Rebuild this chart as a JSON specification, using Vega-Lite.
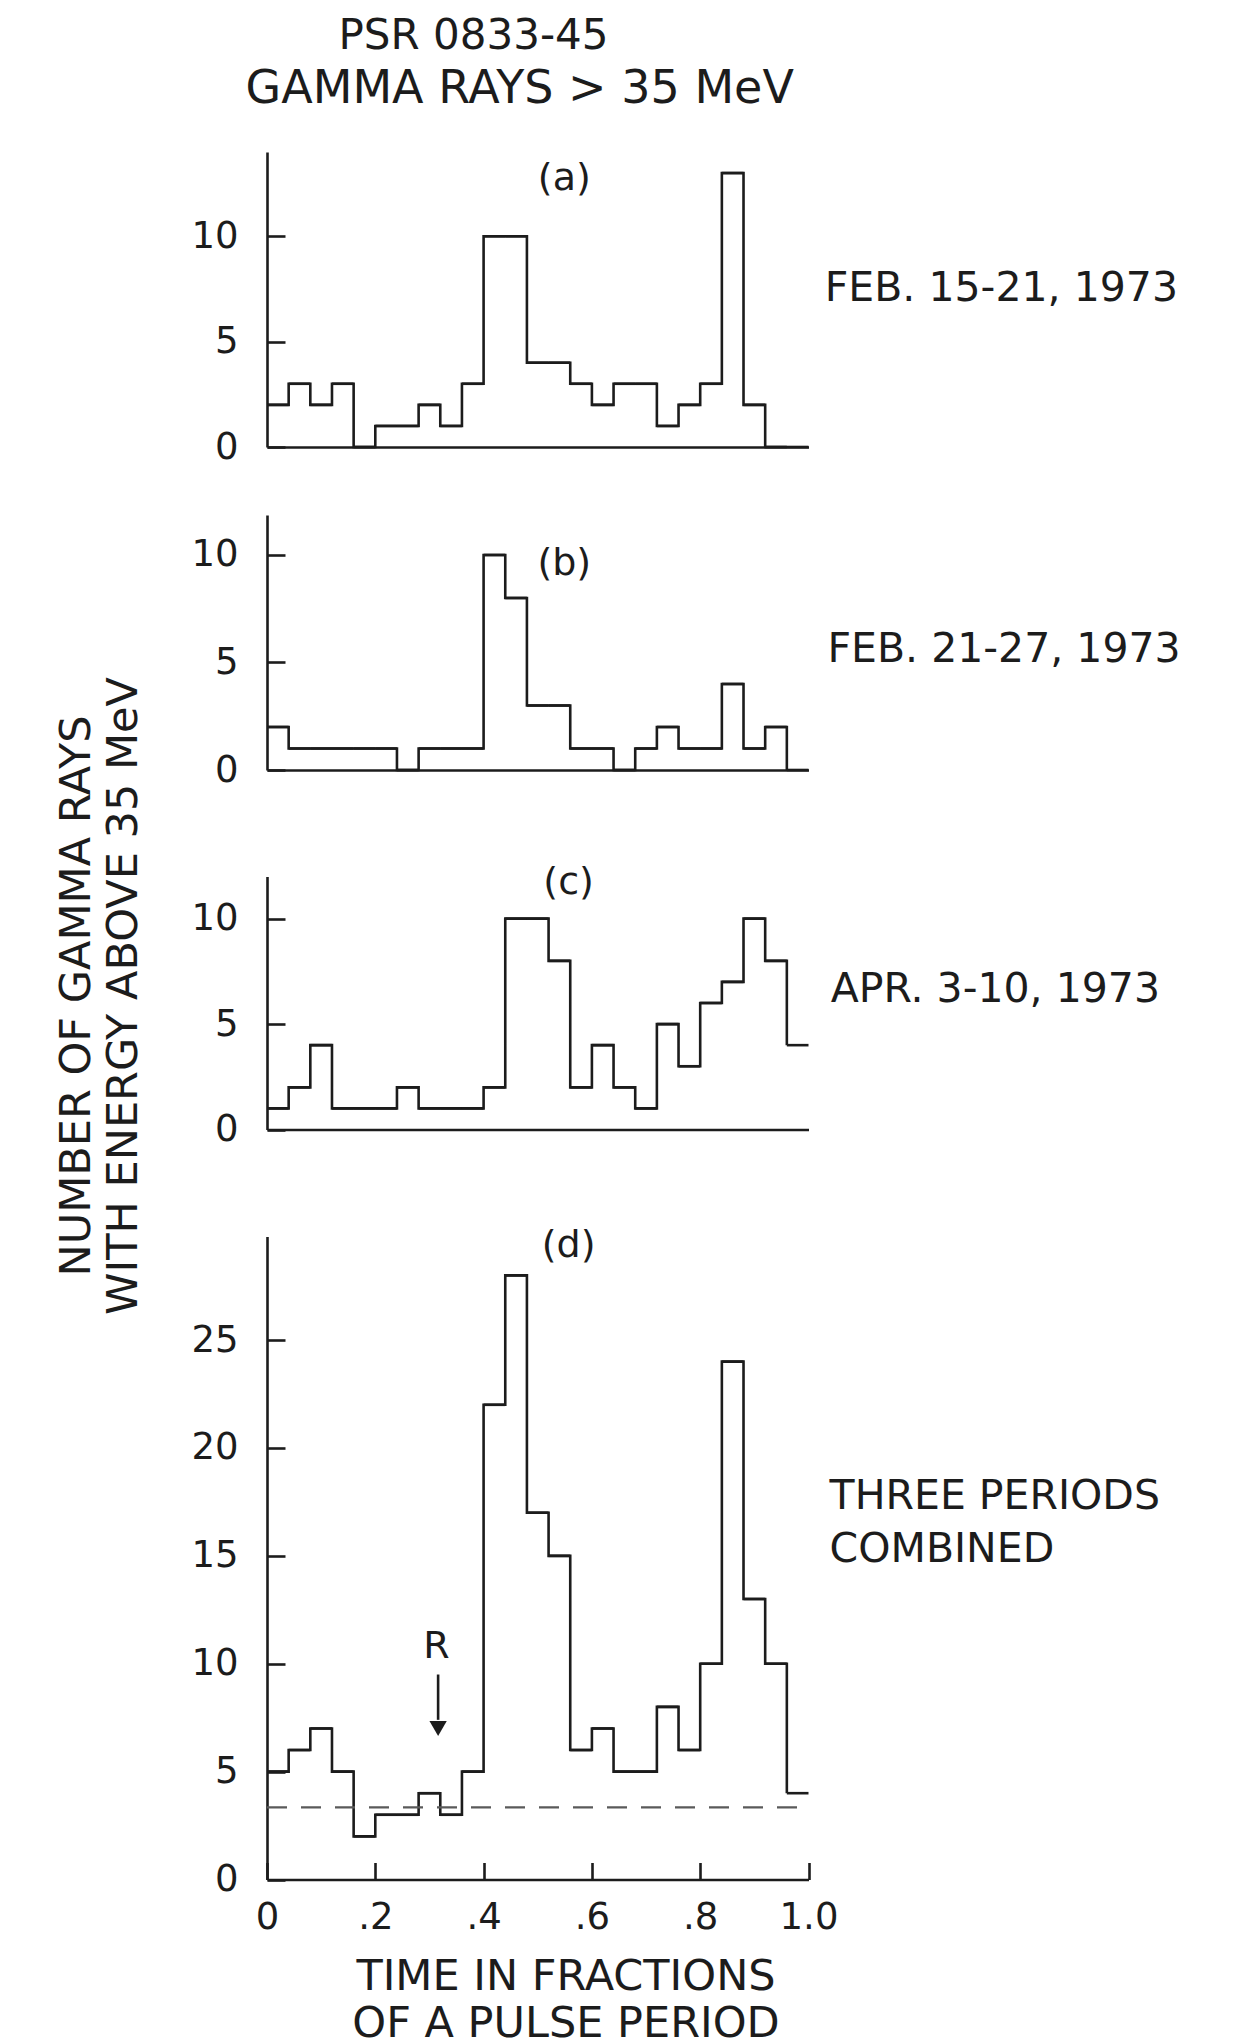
{
  "$schema": "https://vega.github.io/schema/vega-lite/v6.json",
  "padding": {"left": 54, "top": 15, "right": 5, "bottom": 0},
  "background": "white",
  "title": {"text": "PSR 0833-45", "anchor": "start", "frame": "group", "dx": 71.5, "offset": -34, "fontSize": 42, "baseline": "bottom", "fontWeight": "normal", "font": "DejaVu Sans", "color": "#1c1c1c"},
  "datasets": {
    "bins": [
      {"panel": "a", "x0": 0, "x1": 0.04, "n": 2}, {"panel": "a", "x0": 0.04, "x1": 0.08, "n": 3}, {"panel": "a", "x0": 0.08, "x1": 0.12, "n": 2}, {"panel": "a", "x0": 0.12, "x1": 0.16, "n": 3}, {"panel": "a", "x0": 0.16, "x1": 0.2, "n": 0},
      {"panel": "a", "x0": 0.2, "x1": 0.24, "n": 1}, {"panel": "a", "x0": 0.24, "x1": 0.28, "n": 1}, {"panel": "a", "x0": 0.28, "x1": 0.32, "n": 2}, {"panel": "a", "x0": 0.32, "x1": 0.36, "n": 1}, {"panel": "a", "x0": 0.36, "x1": 0.4, "n": 3},
      {"panel": "a", "x0": 0.4, "x1": 0.44, "n": 10}, {"panel": "a", "x0": 0.44, "x1": 0.48, "n": 10}, {"panel": "a", "x0": 0.48, "x1": 0.52, "n": 4}, {"panel": "a", "x0": 0.52, "x1": 0.56, "n": 4}, {"panel": "a", "x0": 0.56, "x1": 0.6, "n": 3},
      {"panel": "a", "x0": 0.6, "x1": 0.64, "n": 2}, {"panel": "a", "x0": 0.64, "x1": 0.68, "n": 3}, {"panel": "a", "x0": 0.68, "x1": 0.72, "n": 3}, {"panel": "a", "x0": 0.72, "x1": 0.76, "n": 1}, {"panel": "a", "x0": 0.76, "x1": 0.8, "n": 2},
      {"panel": "a", "x0": 0.8, "x1": 0.84, "n": 3}, {"panel": "a", "x0": 0.84, "x1": 0.88, "n": 13}, {"panel": "a", "x0": 0.88, "x1": 0.92, "n": 2}, {"panel": "a", "x0": 0.92, "x1": 0.96, "n": 0}, {"panel": "a", "x0": 0.96, "x1": 1, "n": 0},
      {"panel": "b", "x0": 0, "x1": 0.04, "n": 2}, {"panel": "b", "x0": 0.04, "x1": 0.08, "n": 1}, {"panel": "b", "x0": 0.08, "x1": 0.12, "n": 1}, {"panel": "b", "x0": 0.12, "x1": 0.16, "n": 1}, {"panel": "b", "x0": 0.16, "x1": 0.2, "n": 1},
      {"panel": "b", "x0": 0.2, "x1": 0.24, "n": 1}, {"panel": "b", "x0": 0.24, "x1": 0.28, "n": 0}, {"panel": "b", "x0": 0.28, "x1": 0.32, "n": 1}, {"panel": "b", "x0": 0.32, "x1": 0.36, "n": 1}, {"panel": "b", "x0": 0.36, "x1": 0.4, "n": 1},
      {"panel": "b", "x0": 0.4, "x1": 0.44, "n": 10}, {"panel": "b", "x0": 0.44, "x1": 0.48, "n": 8}, {"panel": "b", "x0": 0.48, "x1": 0.52, "n": 3}, {"panel": "b", "x0": 0.52, "x1": 0.56, "n": 3}, {"panel": "b", "x0": 0.56, "x1": 0.6, "n": 1},
      {"panel": "b", "x0": 0.6, "x1": 0.64, "n": 1}, {"panel": "b", "x0": 0.64, "x1": 0.68, "n": 0}, {"panel": "b", "x0": 0.68, "x1": 0.72, "n": 1}, {"panel": "b", "x0": 0.72, "x1": 0.76, "n": 2}, {"panel": "b", "x0": 0.76, "x1": 0.8, "n": 1},
      {"panel": "b", "x0": 0.8, "x1": 0.84, "n": 1}, {"panel": "b", "x0": 0.84, "x1": 0.88, "n": 4}, {"panel": "b", "x0": 0.88, "x1": 0.92, "n": 1}, {"panel": "b", "x0": 0.92, "x1": 0.96, "n": 2}, {"panel": "b", "x0": 0.96, "x1": 1, "n": 0},
      {"panel": "c", "x0": 0, "x1": 0.04, "n": 1}, {"panel": "c", "x0": 0.04, "x1": 0.08, "n": 2}, {"panel": "c", "x0": 0.08, "x1": 0.12, "n": 4}, {"panel": "c", "x0": 0.12, "x1": 0.16, "n": 1}, {"panel": "c", "x0": 0.16, "x1": 0.2, "n": 1},
      {"panel": "c", "x0": 0.2, "x1": 0.24, "n": 1}, {"panel": "c", "x0": 0.24, "x1": 0.28, "n": 2}, {"panel": "c", "x0": 0.28, "x1": 0.32, "n": 1}, {"panel": "c", "x0": 0.32, "x1": 0.36, "n": 1}, {"panel": "c", "x0": 0.36, "x1": 0.4, "n": 1},
      {"panel": "c", "x0": 0.4, "x1": 0.44, "n": 2}, {"panel": "c", "x0": 0.44, "x1": 0.48, "n": 10}, {"panel": "c", "x0": 0.48, "x1": 0.52, "n": 10}, {"panel": "c", "x0": 0.52, "x1": 0.56, "n": 8}, {"panel": "c", "x0": 0.56, "x1": 0.6, "n": 2},
      {"panel": "c", "x0": 0.6, "x1": 0.64, "n": 4}, {"panel": "c", "x0": 0.64, "x1": 0.68, "n": 2}, {"panel": "c", "x0": 0.68, "x1": 0.72, "n": 1}, {"panel": "c", "x0": 0.72, "x1": 0.76, "n": 5}, {"panel": "c", "x0": 0.76, "x1": 0.8, "n": 3},
      {"panel": "c", "x0": 0.8, "x1": 0.84, "n": 6}, {"panel": "c", "x0": 0.84, "x1": 0.88, "n": 7}, {"panel": "c", "x0": 0.88, "x1": 0.92, "n": 10}, {"panel": "c", "x0": 0.92, "x1": 0.96, "n": 8}, {"panel": "c", "x0": 0.96, "x1": 1, "n": 4},
      {"panel": "d", "x0": 0, "x1": 0.04, "n": 5}, {"panel": "d", "x0": 0.04, "x1": 0.08, "n": 6}, {"panel": "d", "x0": 0.08, "x1": 0.12, "n": 7}, {"panel": "d", "x0": 0.12, "x1": 0.16, "n": 5}, {"panel": "d", "x0": 0.16, "x1": 0.2, "n": 2},
      {"panel": "d", "x0": 0.2, "x1": 0.24, "n": 3}, {"panel": "d", "x0": 0.24, "x1": 0.28, "n": 3}, {"panel": "d", "x0": 0.28, "x1": 0.32, "n": 4}, {"panel": "d", "x0": 0.32, "x1": 0.36, "n": 3}, {"panel": "d", "x0": 0.36, "x1": 0.4, "n": 5},
      {"panel": "d", "x0": 0.4, "x1": 0.44, "n": 22}, {"panel": "d", "x0": 0.44, "x1": 0.48, "n": 28}, {"panel": "d", "x0": 0.48, "x1": 0.52, "n": 17}, {"panel": "d", "x0": 0.52, "x1": 0.56, "n": 15}, {"panel": "d", "x0": 0.56, "x1": 0.6, "n": 6},
      {"panel": "d", "x0": 0.6, "x1": 0.64, "n": 7}, {"panel": "d", "x0": 0.64, "x1": 0.68, "n": 5}, {"panel": "d", "x0": 0.68, "x1": 0.72, "n": 5}, {"panel": "d", "x0": 0.72, "x1": 0.76, "n": 8}, {"panel": "d", "x0": 0.76, "x1": 0.8, "n": 6},
      {"panel": "d", "x0": 0.8, "x1": 0.84, "n": 10}, {"panel": "d", "x0": 0.84, "x1": 0.88, "n": 24}, {"panel": "d", "x0": 0.88, "x1": 0.92, "n": 13}, {"panel": "d", "x0": 0.92, "x1": 0.96, "n": 10}, {"panel": "d", "x0": 0.96, "x1": 1, "n": 4}
    ],
    "notes": [
      {"panel": "a", "period": "FEB. 15-21, 1973", "tag": "(a)"},
      {"panel": "b", "period": "FEB. 21-27, 1973", "tag": "(b)"},
      {"panel": "c", "period": "APR. 3-10, 1973", "tag": "(c)"},
      {"panel": "d", "period": "THREE PERIODS\nCOMBINED", "tag": "(d)", "marker": "R"}
    ]
  },
  "bounds": "flush",
  "spacing": 68,
  "vconcat": [
    {
      "title": {"text": "GAMMA RAYS > 35 MeV", "anchor": "middle", "frame": "group", "dx": -18, "offset": -7, "fontSize": 46, "baseline": "bottom", "fontWeight": "normal", "font": "DejaVu Sans", "color": "#1c1c1c"},
      "width": 541.5,
      "height": 295,
      "layer": [
        {
          "data": {"name": "bins"},
          "transform": [{"filter": "datum.panel === 'a'"}],
          "mark": {"type": "line", "interpolate": "step-after", "color": "#1c1c1c", "strokeWidth": 2.6},
          "encoding": {
            "x": {"field": "x0", "type": "quantitative", "scale": {"domain": [0, 1], "nice": false, "zero": false}, "axis": {"title": null, "labels": false, "ticks": false}},
            "y": {"field": "n", "type": "quantitative", "scale": {"domain": [0, 14], "nice": false}, "axis": {"title": null, "values": [0, 5, 10], "tickSize": -18, "labelPadding": 47}}
          }
        },
        {
          "data": {"name": "bins"},
          "transform": [{"filter": "datum.panel === 'a'"}],
          "mark": {"type": "rule", "color": "#1c1c1c", "strokeWidth": 2.6},
          "encoding": {
            "x": {"field": "x0", "type": "quantitative", "scale": {"domain": [0, 1], "nice": false, "zero": false}},
            "x2": {"field": "x1"},
            "y": {"field": "n", "type": "quantitative", "scale": {"domain": [0, 14], "nice": false}}
          }
        },
        {
          "data": {"name": "notes"},
          "transform": [{"filter": "datum.panel === 'a'"}],
          "mark": {"type": "text", "align": "left", "baseline": "alphabetic", "fontSize": 41},
          "encoding": {
            "x": {"datum": 1.03, "type": "quantitative", "scale": {"domain": [0, 1], "nice": false, "zero": false}},
            "y": {"datum": 6.93, "type": "quantitative", "scale": {"domain": [0, 14], "nice": false}},
            "text": {"field": "period"}
          }
        },
        {
          "data": {"name": "notes"},
          "transform": [{"filter": "datum.panel === 'a'"}],
          "mark": {"type": "text", "align": "center", "baseline": "middle", "fontSize": 38},
          "encoding": {
            "x": {"datum": 0.549, "type": "quantitative", "scale": {"domain": [0, 1], "nice": false, "zero": false}},
            "y": {"datum": 12.72, "type": "quantitative", "scale": {"domain": [0, 14], "nice": false}},
            "text": {"field": "tag"}
          }
        }
      ]
    },
    {
      "width": 541.5,
      "height": 255,
      "layer": [
        {
          "data": {"name": "bins"},
          "transform": [{"filter": "datum.panel === 'b'"}],
          "mark": {"type": "line", "interpolate": "step-after", "color": "#1c1c1c", "strokeWidth": 2.6},
          "encoding": {
            "x": {"field": "x0", "type": "quantitative", "scale": {"domain": [0, 1], "nice": false, "zero": false}, "axis": {"title": null, "labels": false, "ticks": false}},
            "y": {"field": "n", "type": "quantitative", "scale": {"domain": [0, 11.86], "nice": false}, "axis": {"title": null, "values": [0, 5, 10], "tickSize": -18, "labelPadding": 47}}
          }
        },
        {
          "data": {"name": "bins"},
          "transform": [{"filter": "datum.panel === 'b'"}],
          "mark": {"type": "rule", "color": "#1c1c1c", "strokeWidth": 2.6},
          "encoding": {
            "x": {"field": "x0", "type": "quantitative", "scale": {"domain": [0, 1], "nice": false, "zero": false}},
            "x2": {"field": "x1"},
            "y": {"field": "n", "type": "quantitative", "scale": {"domain": [0, 11.86], "nice": false}}
          }
        },
        {
          "data": {"name": "notes"},
          "transform": [{"filter": "datum.panel === 'b'"}],
          "mark": {"type": "text", "align": "left", "baseline": "alphabetic", "fontSize": 41},
          "encoding": {
            "x": {"datum": 1.035, "type": "quantitative", "scale": {"domain": [0, 1], "nice": false, "zero": false}},
            "y": {"datum": 5.0, "type": "quantitative", "scale": {"domain": [0, 11.86], "nice": false}},
            "text": {"field": "period"}
          }
        },
        {
          "data": {"name": "notes"},
          "transform": [{"filter": "datum.panel === 'b'"}],
          "mark": {"type": "text", "align": "center", "baseline": "middle", "fontSize": 38},
          "encoding": {
            "x": {"datum": 0.549, "type": "quantitative", "scale": {"domain": [0, 1], "nice": false, "zero": false}},
            "y": {"datum": 9.57, "type": "quantitative", "scale": {"domain": [0, 11.86], "nice": false}},
            "text": {"field": "tag"}
          }
        }
      ]
    },
    {
      "width": 541.5,
      "height": 291.5,
      "layer": [
        {
          "data": {"name": "bins"},
          "transform": [{"filter": "datum.panel === 'c'"}],
          "mark": {"type": "line", "interpolate": "step-after", "color": "#1c1c1c", "strokeWidth": 2.6},
          "encoding": {
            "x": {"field": "x0", "type": "quantitative", "scale": {"domain": [0, 1], "nice": false, "zero": false}, "axis": {"title": null, "labels": false, "ticks": false}},
            "y": {"field": "n", "type": "quantitative", "scale": {"domain": [0, 12], "range": [291.5, 38.5], "nice": false}, "axis": {"title": ["NUMBER OF GAMMA RAYS", "WITH ENERGY ABOVE 35 MeV"], "values": [0, 5, 10], "tickSize": -18, "labelPadding": 47, "titleAngle": 270, "titleAlign": "center", "titleBaseline": "alphabetic", "titleX": -178, "titleY": 157.5, "titleLineHeight": 47, "titleFontSize": 43}}
          }
        },
        {
          "data": {"name": "bins"},
          "transform": [{"filter": "datum.panel === 'c'"}],
          "mark": {"type": "rule", "color": "#1c1c1c", "strokeWidth": 2.6},
          "encoding": {
            "x": {"field": "x0", "type": "quantitative", "scale": {"domain": [0, 1], "nice": false, "zero": false}},
            "x2": {"field": "x1"},
            "y": {"field": "n", "type": "quantitative", "scale": {"domain": [0, 12], "range": [291.5, 38.5], "nice": false}}
          }
        },
        {
          "data": {"name": "notes"},
          "transform": [{"filter": "datum.panel === 'c'"}],
          "mark": {"type": "text", "align": "left", "baseline": "alphabetic", "fontSize": 41},
          "encoding": {
            "x": {"datum": 1.041, "type": "quantitative", "scale": {"domain": [0, 1], "nice": false, "zero": false}},
            "y": {"datum": 6.07, "type": "quantitative", "scale": {"domain": [0, 12], "range": [291.5, 38.5], "nice": false}},
            "text": {"field": "period"}
          }
        },
        {
          "data": {"name": "notes"},
          "transform": [{"filter": "datum.panel === 'c'"}],
          "mark": {"type": "text", "align": "center", "baseline": "middle", "fontSize": 38},
          "encoding": {
            "x": {"datum": 0.557, "type": "quantitative", "scale": {"domain": [0, 1], "nice": false, "zero": false}},
            "y": {"datum": 11.68, "type": "quantitative", "scale": {"domain": [0, 12], "range": [291.5, 38.5], "nice": false}},
            "text": {"field": "tag"}
          }
        }
      ]
    },
    {
      "width": 541.5,
      "height": 681.5,
      "layer": [
        {
          "data": {"name": "bins"},
          "transform": [{"filter": "datum.panel === 'd'"}],
          "mark": {"type": "line", "interpolate": "step-after", "color": "#1c1c1c", "strokeWidth": 2.6},
          "encoding": {
            "x": {"field": "x0", "type": "quantitative", "scale": {"domain": [0, 1], "nice": false, "zero": false}, "axis": {"title": ["TIME IN FRACTIONS", "OF A PULSE PERIOD"], "values": [0, 0.2, 0.4, 0.6, 0.8, 1], "tickSize": -17, "labelPadding": 37, "labelFlush": false, "labelExpr": "datum.value === 0 ? '0' : datum.value === 1 ? '1.0' : slice(format(datum.value, '.1f'), 1)", "titleX": 298.5, "titleY": 110, "titleAlign": "center", "titleBaseline": "alphabetic", "titleLineHeight": 47, "titleFontSize": 43}},
            "y": {"field": "n", "type": "quantitative", "scale": {"domain": [0, 29.8], "range": [681.5, 38.5], "nice": false}, "axis": {"title": null, "values": [0, 5, 10, 15, 20, 25], "tickSize": -18, "labelPadding": 47}}
          }
        },
        {
          "data": {"name": "bins"},
          "transform": [{"filter": "datum.panel === 'd'"}],
          "mark": {"type": "rule", "color": "#1c1c1c", "strokeWidth": 2.6},
          "encoding": {
            "x": {"field": "x0", "type": "quantitative", "scale": {"domain": [0, 1], "nice": false, "zero": false}},
            "x2": {"field": "x1"},
            "y": {"field": "n", "type": "quantitative", "scale": {"domain": [0, 29.8], "range": [681.5, 38.5], "nice": false}}
          }
        },
        {
          "data": {"name": "notes"},
          "transform": [{"filter": "datum.panel === 'd'"}],
          "mark": {"type": "rule", "color": "#5a5a5a", "strokeWidth": 2.2, "strokeDash": [20, 14]},
          "encoding": {
            "x": {"datum": 0, "type": "quantitative", "scale": {"domain": [0, 1], "nice": false, "zero": false}},
            "x2": {"datum": 1},
            "y": {"datum": 3.34, "type": "quantitative", "scale": {"domain": [0, 29.8], "range": [681.5, 38.5], "nice": false}}
          }
        },
        {
          "data": {"name": "notes"},
          "transform": [{"filter": "datum.panel === 'd'"}],
          "mark": {"type": "text", "align": "left", "baseline": "alphabetic", "fontSize": 41, "lineBreak": "\n", "lineHeight": 53},
          "encoding": {
            "x": {"datum": 1.039, "type": "quantitative", "scale": {"domain": [0, 1], "nice": false, "zero": false}},
            "y": {"datum": 17.16, "type": "quantitative", "scale": {"domain": [0, 29.8], "range": [681.5, 38.5], "nice": false}},
            "text": {"field": "period"}
          }
        },
        {
          "data": {"name": "notes"},
          "transform": [{"filter": "datum.panel === 'd'"}],
          "mark": {"type": "text", "align": "center", "baseline": "middle", "fontSize": 38},
          "encoding": {
            "x": {"datum": 0.557, "type": "quantitative", "scale": {"domain": [0, 1], "nice": false, "zero": false}},
            "y": {"datum": 29.36, "type": "quantitative", "scale": {"domain": [0, 29.8], "range": [681.5, 38.5], "nice": false}},
            "text": {"field": "tag"}
          }
        },
        {
          "data": {"name": "notes"},
          "transform": [{"filter": "datum.panel === 'd'"}],
          "mark": {"type": "text", "align": "center", "baseline": "middle", "fontSize": 38},
          "encoding": {
            "x": {"datum": 0.313, "type": "quantitative", "scale": {"domain": [0, 1], "nice": false, "zero": false}},
            "y": {"datum": 10.78, "type": "quantitative", "scale": {"domain": [0, 29.8], "range": [681.5, 38.5], "nice": false}},
            "text": {"field": "marker"}
          }
        },
        {
          "data": {"name": "notes"},
          "transform": [{"filter": "datum.panel === 'd'"}],
          "mark": {"type": "rule", "color": "#1c1c1c", "strokeWidth": 2.6},
          "encoding": {
            "x": {"datum": 0.316, "type": "quantitative", "scale": {"domain": [0, 1], "nice": false, "zero": false}},
            "y": {"datum": 9.5, "type": "quantitative", "scale": {"domain": [0, 29.8], "range": [681.5, 38.5], "nice": false}},
            "y2": {"datum": 7.4}
          }
        },
        {
          "data": {"name": "notes"},
          "transform": [{"filter": "datum.panel === 'd'"}],
          "mark": {"type": "point", "shape": "triangle-down", "filled": true, "color": "#1c1c1c", "size": 300, "opacity": 1},
          "encoding": {
            "x": {"datum": 0.316, "type": "quantitative", "scale": {"domain": [0, 1], "nice": false, "zero": false}},
            "y": {"datum": 7.0, "type": "quantitative", "scale": {"domain": [0, 29.8], "range": [681.5, 38.5], "nice": false}}
          }
        }
      ]
    }
  ],
  "config": {
    "font": "DejaVu Sans",
    "view": {"stroke": null},
    "axis": {
      "grid": false,
      "domainColor": "#1c1c1c",
      "domainWidth": 2.6,
      "tickColor": "#1c1c1c",
      "tickWidth": 2.6,
      "labelFont": "DejaVu Sans",
      "labelFontSize": 37,
      "labelColor": "#1c1c1c",
      "titleFont": "DejaVu Sans",
      "titleFontWeight": "normal",
      "titleColor": "#1c1c1c"
    },
    "text": {"color": "#1c1c1c", "font": "DejaVu Sans"}
  }
}
